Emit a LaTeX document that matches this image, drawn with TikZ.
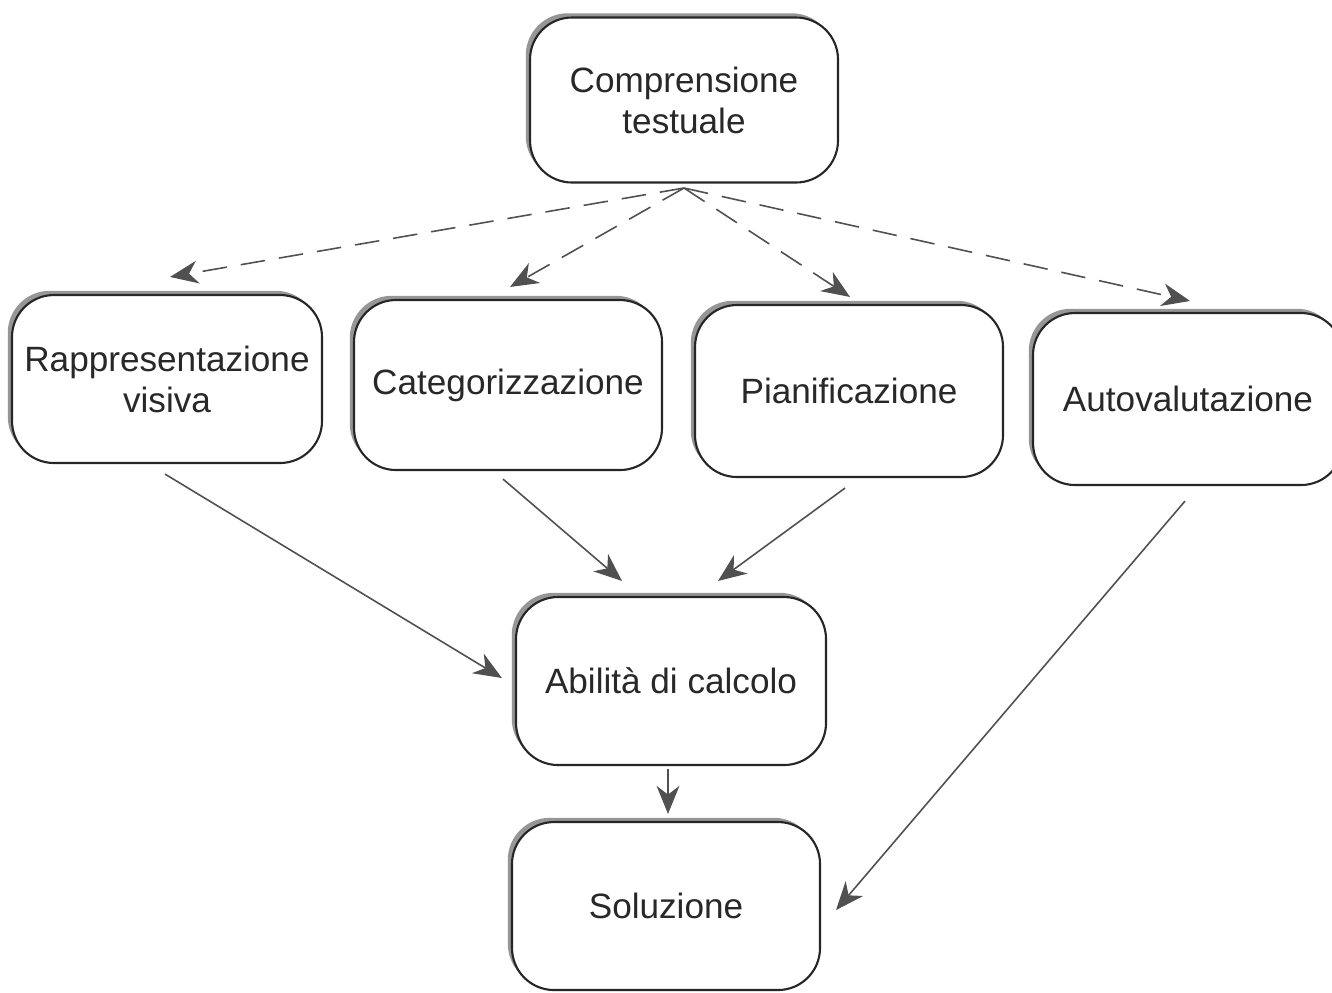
\documentclass[tikz,border=0pt]{standalone}
\usepackage{fontspec}
\setmainfont{Liberation Sans}
\usepackage{tikz}
\usetikzlibrary{arrows.meta,shadows}
\definecolor{line_gray}{RGB}{80,80,80}
\definecolor{shadow_gray}{RGB}{150,150,150}
\definecolor{text_gray}{RGB}{40,40,40}

\begin{document}
\begin{tikzpicture}[->,>={Stealth[length=8pt,width=6.5pt,inset=2.5pt]}]
    \tikzstyle{box}=[draw=black!85, line width=0.6pt, rounded corners=0.42cm, fill=white,
                     minimum width=3.08cm, minimum height=1.68cm, align=center, text=text_gray,
                     font=\fontsize{10}{11.7}\selectfont,
                     drop shadow={shadow xshift=-1.2pt, shadow yshift=1.2pt, fill=shadow_gray, opacity=1}]
    \tikzstyle{link}=[draw=line_gray, line width=0.45pt]
    \tikzstyle{dashedge}=[link, dash pattern=on 7pt off 4pt]

    \useasboundingbox (0,0) rectangle (13.32,-9.92);

    \node[box, minimum height=1.65cm] (comp) at (6.84,-1.00) {Comprensione\\testuale};
    \node[box, minimum width=3.10cm]  (rapp) at (1.67,-3.79) {Rappresentazione\\visiva};
    \node[box, minimum height=1.70cm] (cat)  at (5.08,-3.85) {Categorizzazione};
    \node[box, minimum height=1.72cm] (plan) at (8.49,-3.91) {Pianificazione};
    \node[box, minimum width=3.10cm, minimum height=1.72cm] (auto) at (11.88,-3.99) {Autovalutazione};
    \node[box, minimum width=3.10cm]  (abil) at (6.71,-6.81) {Abilità di calcolo};
    \node[box]                        (sol)  at (6.66,-9.06) {Soluzione};
    \coordinate (apex) at (6.84,-1.88);

    \path
     (apex) edge[dashedge] ([xshift=0.03cm, yshift=0.17cm]rapp.north)
     (apex) edge[dashedge] ([xshift=0.02cm, yshift=0.12cm]cat.north)
     (apex) edge[dashedge] ([xshift=0.01cm, yshift=0.07cm]plan.north)
     (apex) edge[dashedge] ([xshift=0.02cm, yshift=0.11cm]auto.north)
     ([xshift=-0.02cm, yshift=-0.10cm]rapp.south) edge[link] ([xshift=-0.13cm, yshift=0.03cm]abil.west)
     ([xshift=-0.05cm, yshift=-0.08cm]cat.south)  edge[link] ([xshift=-0.49cm, yshift=0.15cm]abil.north)
     ([xshift=-0.04cm, yshift=-0.10cm]plan.south) edge[link] ([xshift=0.47cm, yshift=0.15cm]abil.north)
     ([xshift=-0.03cm, yshift=-0.03cm]abil.south) edge[link] ([xshift=0.02cm, yshift=0.07cm]sol.north)
     ([xshift=-0.03cm, yshift=-0.15cm]auto.south) edge[link] ([xshift=0.15cm, yshift=-0.04cm]sol.east)
     ;
\end{tikzpicture}
\end{document}
